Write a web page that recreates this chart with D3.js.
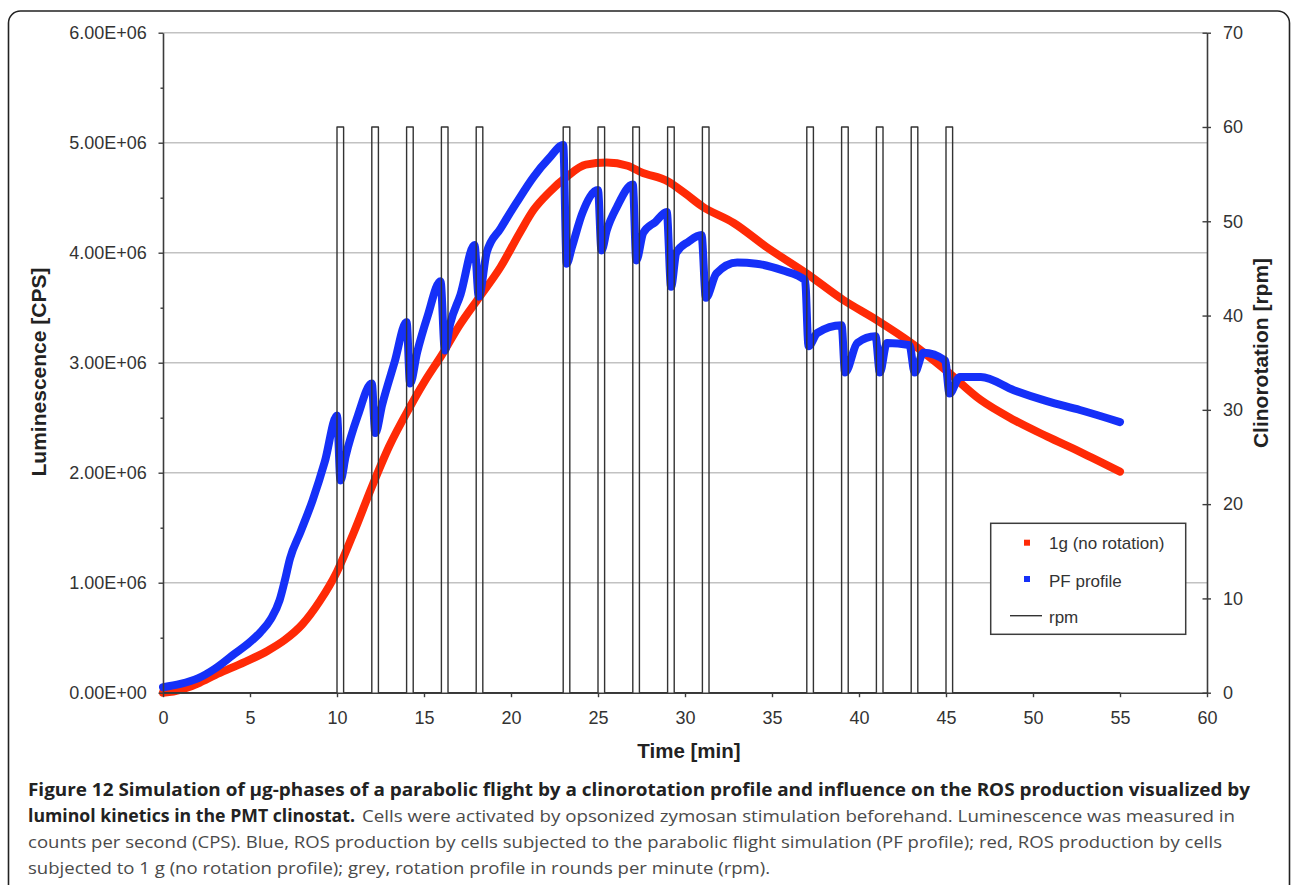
<!DOCTYPE html>
<html><head><meta charset="utf-8">
<script src="https://cdn.jsdelivr.net/npm/d3@7"></script>
<style>body{margin:0;background:#fff} svg{display:block}</style>
</head><body>
<svg id="c" width="1292" height="885"></svg>
<script>
// ---------- data ----------
const xTicks = [0,5,10,15,20,25,30,35,40,45,50,55,60];
const leftTickValues = [0,1e6,2e6,3e6,4e6,5e6,6e6];
const leftTickLabels = ["0.00E+00","1.00E+06","2.00E+06","3.00E+06","4.00E+06","5.00E+06","6.00E+06"];
const leftMinorTicks = [5e5,1.5e6,2.5e6,3.5e6,4.5e6,5.5e6];
const rightTicks = [0,10,20,30,40,50,60,70];

const timeRed = [0,0.6,1.3,2.1,3,4,5,6,7,8,9,10,11,12,13,14.2,15,16.1,17,18.2,19.4,20.5,21.3,22.2,23.2,24.3,25.5,26.7,27.5,29,30,31,32.8,34.7,37,39.1,41,43,45,47,48.9,50.8,52.7,55];
const lumRed = [0,0.01e6,0.04e6,0.09e6,0.16e6,0.23e6,0.30e6,0.38e6,0.48e6,0.62e6,0.83e6,1.10e6,1.47e6,1.87e6,2.24e6,2.60e6,2.82e6,3.09e6,3.33e6,3.60e6,3.87e6,4.18e6,4.39e6,4.55e6,4.69e6,4.80e6,4.82e6,4.79e6,4.73e6,4.65e6,4.54e6,4.42e6,4.27e6,4.05e6,3.81e6,3.57e6,3.39e6,3.18e6,2.93e6,2.66e6,2.48e6,2.33e6,2.19e6,2.01e6];

const timeBlue = [0,1,2,3,4,5,5.6,6.2,6.7,7.0,7.3,7.9,8.6,9.3,10.0,10.2,10.5,11.2,12.0,12.2,12.6,13.3,14.0,14.2,14.6,15.2,15.95,16.2,16.5,17.1,17.9,18.15,18.6,19.4,20.3,21.3,22.2,23.0,23.2,23.5,24.1,25.0,25.2,25.5,26.1,27.0,27.2,27.6,28.3,28.95,29.2,29.5,30.2,30.95,31.2,31.8,33.0,34.1,35.6,36.9,37.1,37.6,39.0,39.2,39.9,40.95,41.2,41.6,42.9,43.2,43.7,44.95,45.2,45.8,47.0,48.9,50.8,52.7,55.0];
const lumBlue = [0.05e6,0.08e6,0.13e6,0.22e6,0.34e6,0.46e6,0.55e6,0.67e6,0.84e6,1.02e6,1.22e6,1.46e6,1.75e6,2.10e6,2.52e6,1.93e6,2.15e6,2.52e6,2.81e6,2.36e6,2.62e6,3.00e6,3.37e6,2.81e6,3.09e6,3.42e6,3.74e6,3.11e6,3.35e6,3.62e6,4.07e6,3.60e6,4.00e6,4.22e6,4.45e6,4.69e6,4.86e6,4.98e6,3.90e6,4.05e6,4.36e6,4.57e6,4.02e6,4.20e6,4.42e6,4.62e6,3.93e6,4.18e6,4.28e6,4.37e6,3.69e6,4.00e6,4.10e6,4.16e6,3.59e6,3.81e6,3.91e6,3.90e6,3.84e6,3.75e6,3.15e6,3.27e6,3.34e6,2.91e6,3.18e6,3.24e6,2.91e6,3.18e6,3.16e6,2.91e6,3.09e6,3.02e6,2.72e6,2.87e6,2.87e6,2.75e6,2.65e6,2.57e6,2.46e6];

const rpmStarts = [10,12,14,16,18,23,25,27,29,31,37,39,41,43,45];
const rpmDuration = 0.38;
const rpmLevel = 60;
const rpmEnd = 55;

const legendLabels = ["1g (no rotation)","PF profile","rpm"];
const xTitle = "Time [min]";
const yLeftTitle = "Luminescence [CPS]";
const yRightTitle = "Clinorotation  [rpm]";

// ---------- layout ----------
const svg = d3.select("#c");
const L = 163, R = 1207, T = 32.7, B = 692.7;
const colRed = "#ff2a06", colBlue = "#1530f8", axisCol = "#3c3c3c", textCol = "#333";
const tickFont = "'Liberation Sans', Arial, sans-serif";

const x = d3.scaleLinear().domain([0,60]).range([L,R]);
const yL = d3.scaleLinear().domain([0,6e6]).range([B,T]);
const yR = d3.scaleLinear().domain([0,70]).range([B,T]);

// outer rounded frame
svg.append("rect").attr("x",8.5).attr("y",11).attr("width",1281).attr("height",940)
  .attr("rx",12).attr("fill","none").attr("stroke","#222").attr("stroke-width",1.6);

// gridlines
svg.append("g").selectAll("line").data(leftTickValues.filter(v=>v>0)).join("line")
  .attr("x1",L).attr("x2",R).attr("y1",d=>yL(d)).attr("y2",d=>yL(d))
  .attr("stroke","#c2c2c2").attr("stroke-width",1.6);

// series
const redData = timeRed.map((t,i)=>[t,lumRed[i]]);
const blueData = timeBlue.map((t,i)=>[t,lumBlue[i]]);
const lineL = d3.line().x(d=>x(d[0])).y(d=>yL(d[1])).curve(d3.curveMonotoneX);

svg.append("path").datum(redData).attr("d",lineL).attr("fill","none")
  .attr("stroke",colRed).attr("stroke-width",8).attr("stroke-linecap","round").attr("stroke-linejoin","round");
svg.append("path").datum(blueData).attr("d",lineL).attr("fill","none")
  .attr("stroke",colBlue).attr("stroke-width",8).attr("stroke-linecap","round").attr("stroke-linejoin","round");

// rpm step profile
const rpmData = [[0,0]];
rpmStarts.forEach(s=>{ rpmData.push([s,0],[s,rpmLevel],[s+rpmDuration,rpmLevel],[s+rpmDuration,0]); });
rpmData.push([rpmEnd,0]);
svg.append("path").datum(rpmData)
  .attr("d", d3.line().x(d=>x(d[0])).y(d=>yR(d[1])))
  .attr("fill","none").attr("stroke","#333").attr("stroke-width",1.4).attr("stroke-linejoin","round");

// axes
function styleAxis(g){
  g.select(".domain").attr("stroke",axisCol).attr("stroke-width",1.6);
  g.selectAll(".tick line").attr("stroke",axisCol).attr("stroke-width",1.4);
  g.selectAll("text").attr("font-family",tickFont).attr("font-size",18).attr("fill",textCol);
}
const gx = svg.append("g").attr("transform",`translate(0,${B})`)
  .call(d3.axisBottom(x).tickValues(xTicks).tickFormat(d3.format("d")).tickSizeInner(4.5).tickSizeOuter(0).tickPadding(14.5));
styleAxis(gx);

const gyMinor = svg.append("g").attr("transform",`translate(${L},0)`)
  .call(d3.axisLeft(yL).tickValues(leftMinorTicks).tickFormat("").tickSizeInner(2.5).tickSizeOuter(0));
styleAxis(gyMinor);
gyMinor.select(".domain").remove();

const gy = svg.append("g").attr("transform",`translate(${L},0)`)
  .call(d3.axisLeft(yL).tickValues(leftTickValues).tickFormat((d,i)=>leftTickLabels[i]).tickSizeInner(4.5).tickSizeOuter(0).tickPadding(11.8));
styleAxis(gy);

const gr = svg.append("g").attr("transform",`translate(${R},0)`)
  .call(d3.axisRight(yR).tickValues(rightTicks).tickFormat(d3.format("d")).tickSizeInner(4).tickSizeOuter(0).tickPadding(12));
styleAxis(gr);
gr.selectAll(".tick line").attr("x1",-4.5);

// axis titles
svg.append("text").attr("x",(L+R)/2+4).attr("y",758).attr("text-anchor","middle")
  .attr("font-family",tickFont).attr("font-weight","bold").attr("font-size",20.5).attr("fill","#222").text(xTitle);
svg.append("text").attr("transform","translate(46,372) rotate(-90)").attr("text-anchor","middle")
  .attr("font-family",tickFont).attr("font-weight","bold").attr("font-size",21).attr("fill","#222").text(yLeftTitle);
svg.append("text").attr("transform","translate(1268,353) rotate(-90)").attr("text-anchor","middle")
  .attr("font-family",tickFont).attr("font-weight","bold").attr("font-size",21).attr("fill","#222").text(yRightTitle);

// legend
const lg = svg.append("g");
lg.append("rect").attr("x",990.7).attr("y",523.3).attr("width",195).attr("height",111)
  .attr("fill","#fff").attr("stroke",axisCol).attr("stroke-width",1.5);
lg.append("rect").attr("x",1024).attr("y",539.7).attr("width",6).attr("height",6).attr("fill",colRed);
lg.append("rect").attr("x",1024).attr("y",576).attr("width",6).attr("height",6).attr("fill",colBlue);
lg.append("line").attr("x1",1010).attr("x2",1042).attr("y1",615.7).attr("y2",615.7).attr("stroke","#333").attr("stroke-width",1.4);
[549,586.5,623].forEach((yy,i)=>{
  lg.append("text").attr("x",1049).attr("y",yy).attr("font-family",tickFont).attr("font-size",17)
    .attr("fill",textCol).text(legendLabels[i]);
});

// caption
const capFont = "'Open Sans', sans-serif";
const cap = svg.append("g").attr("font-family",capFont).attr("font-size",17);
cap.append("text").attr("x",28).attr("y",796).attr("font-weight","bold").attr("fill","#222")
  .text("Figure 12 Simulation of µg-phases of a parabolic flight by a clinorotation profile and influence on the ROS production visualized by")
  .attr("textLength",1222).attr("lengthAdjust","spacingAndGlyphs");
cap.append("text").attr("x",28).attr("y",822).attr("font-weight","bold").attr("fill","#222")
  .text("luminol kinetics in the PMT clinostat.").attr("textLength",327).attr("lengthAdjust","spacingAndGlyphs");
cap.append("text").attr("x",362).attr("y",822).attr("fill","#4a4a4a")
  .text("Cells were activated by opsonized zymosan stimulation beforehand. Luminescence was measured in")
  .attr("textLength",873).attr("lengthAdjust","spacingAndGlyphs");
const l3 = cap.append("text").attr("x",28).attr("y",848).attr("fill","#4a4a4a")
  .text("counts per second (CPS). Blue, ROS production by cells subjected to the parabolic flight simulation (PF profile); red, ROS production by cells");
const nat3 = l3.node().getComputedTextLength();
l3.attr("textLength",1194).attr("lengthAdjust","spacingAndGlyphs");
const l4 = cap.append("text").attr("x",28).attr("y",874).attr("fill","#4a4a4a")
  .text("subjected to 1 g (no rotation profile); grey, rotation profile in rounds per minute (rpm).");
const nat4 = l4.node().getComputedTextLength();
l4.attr("textLength",nat4*1194/nat3).attr("lengthAdjust","spacingAndGlyphs");
</script>
</body></html>
